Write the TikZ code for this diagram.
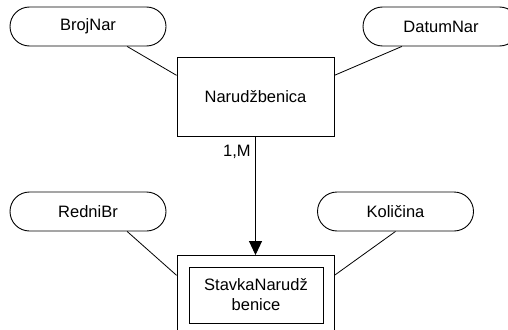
\documentclass[tikz,border=0pt]{standalone}
\usepackage{fontspec}
\setmainfont{Liberation Sans}
\usetikzlibrary{shapes.misc, arrows.meta}
\tikzset{
	attrnode/.style={
			rounded rectangle,
			draw=black,
			line width=0.9pt,
			minimum width=156pt,
			minimum height=39pt,
			inner sep=0pt,
			font=\fontsize{16.5}{20}\selectfont
		},
	entitynode/.style={
			rectangle,
			draw=black,
			line width=0.9pt,
			minimum width=157pt,
			minimum height=79pt,
			inner sep=0pt,
			font=\fontsize{16.5}{20}\selectfont
		},
	innernode/.style={
			entitynode,
			minimum width=134pt,
			minimum height=56pt,
			align=center
		},
	attrline/.style={
			line width=0.8pt
		},
	relline/.style={
			line width=0.9pt,
			-{Triangle[width=13pt,length=14pt]}
		}
}

\begin{document}
\begin{tikzpicture}[x=1pt, y=-1pt]
\useasboundingbox (0,0) rectangle (508,329);

\node[attrnode] (n1) at (88,26.5) {BrojNar};
\node[attrnode] (n2) at (441,26.5) {DatumNar};
\node[entitynode] (n3) at (255.5,96.5) {Narudžbenica};
\node[attrnode] (n4) at (88,211.5) {RedniBr};
\node[attrnode] (n5) at (395.5,211.5) {Količina};
\node[entitynode] (n6) at (255.5,295) {};
\node[innernode] (n7) at (256,295) {StavkaNarudž\\benice};

\draw[attrline] (n1.-27) -- (n3.165);
\draw[attrline] (n2.-153) -- (n3.15);

\draw[relline] (n3.south) -- node[pos=0.13, left=1pt, font=\fontsize{16.5}{20}\selectfont] {1,M} (n6.north);

\draw[attrline] (n4.-27) -- (n6.166);
\draw[attrline] (n5.south) -- (n6.14);

\end{tikzpicture}
\end{document}
